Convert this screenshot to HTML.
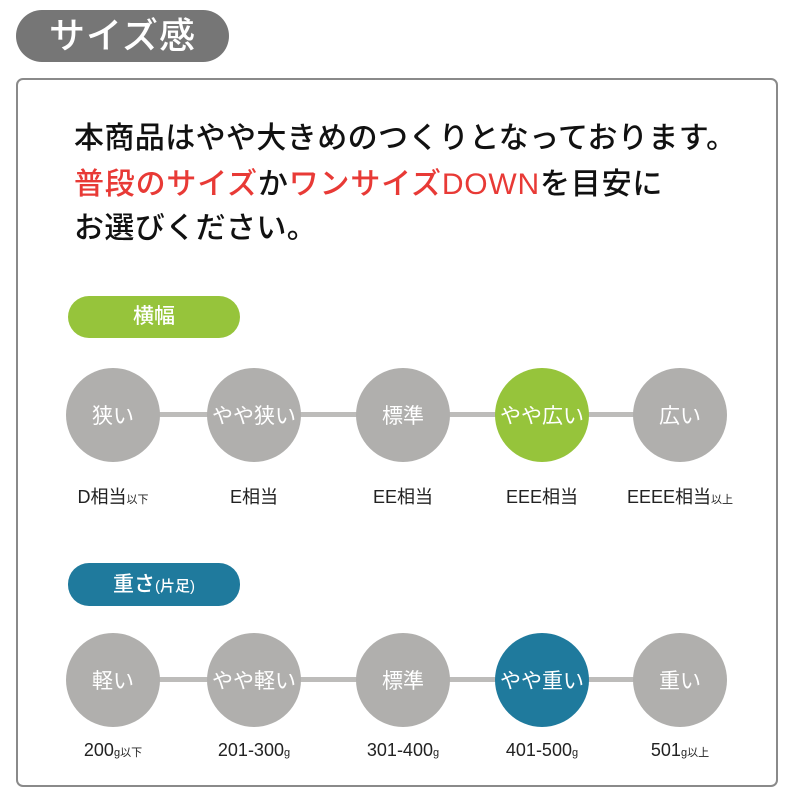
<!DOCTYPE html><html><head><meta charset="utf-8"><style>
body{margin:0;width:800px;height:800px;background:#fff;position:relative;overflow:hidden;font-family:"Liberation Sans","Noto Sans CJK JP",sans-serif}
.a{position:absolute}
.pill{position:absolute;color:#fff;text-align:center;font-weight:500}
.c{position:absolute;width:94px;height:94px;border-radius:50%;background:#b0afad;color:#fff;font-size:21px;display:flex;align-items:center;justify-content:center;white-space:nowrap}
.l{position:absolute;font-size:18px;color:#222;text-align:center;width:160px}
.l small{font-size:11px}
.line{position:absolute;height:5px;background:#bdbcba}
.t{position:absolute;left:74px;font-size:30px;letter-spacing:0.4px;color:#111;white-space:nowrap;font-weight:500}
.r{color:#e83a36}
</style></head><body>
<div class="pill" style="left:16px;top:10px;width:213px;height:52px;border-radius:26px;background:#767676;font-size:36px;line-height:52px;letter-spacing:1px">サイズ感</div>
<div class="a" style="left:16px;top:78px;width:758px;height:705px;border:2px solid #8a8a8a;border-radius:7px"></div>
<div class="t" style="top:113px">本商品はやや大きめのつくりとなっております。</div>
<div class="t" style="top:159px;letter-spacing:0.8px"><span class="r">普段のサイズ</span>か<span class="r">ワンサイズDOWN</span>を目安に</div>
<div class="t" style="top:203px">お選びください。</div>
<div class="pill" style="left:68px;top:296px;width:172px;height:42px;border-radius:21px;background:#96c43b;font-size:21px;line-height:42px">横幅</div>
<div class="pill" style="left:68px;top:563px;width:172px;height:43px;border-radius:21px;background:#1f7a9d;font-size:21px;line-height:43px">重さ<span style="font-size:15px">(片足)</span></div>
<div class="line" style="left:113px;top:412px;width:570px"></div>
<div class="line" style="left:113px;top:677px;width:570px"></div>
<div class="c" style="left:66px;top:368px">狭い</div>
<div class="c" style="left:207px;top:368px">やや狭い</div>
<div class="c" style="left:356px;top:368px">標準</div>
<div class="c" style="left:495px;top:368px;background:#96c43b">やや広い</div>
<div class="c" style="left:633px;top:368px">広い</div>
<div class="l" style="left:33px;top:483px">D相当<small>以下</small></div>
<div class="l" style="left:174px;top:483px">E相当</div>
<div class="l" style="left:323px;top:483px">EE相当</div>
<div class="l" style="left:462px;top:483px">EEE相当</div>
<div class="l" style="left:600px;top:483px">EEEE相当<small>以上</small></div>
<div class="c" style="left:66px;top:633px">軽い</div>
<div class="c" style="left:207px;top:633px">やや軽い</div>
<div class="c" style="left:356px;top:633px">標準</div>
<div class="c" style="left:495px;top:633px;background:#1f7a9d">やや重い</div>
<div class="c" style="left:633px;top:633px">重い</div>
<div class="l" style="left:33px;top:740px">200<small>g以下</small></div>
<div class="l" style="left:174px;top:740px">201-300<small>g</small></div>
<div class="l" style="left:323px;top:740px">301-400<small>g</small></div>
<div class="l" style="left:462px;top:740px">401-500<small>g</small></div>
<div class="l" style="left:600px;top:740px">501<small>g以上</small></div>
</body></html>
